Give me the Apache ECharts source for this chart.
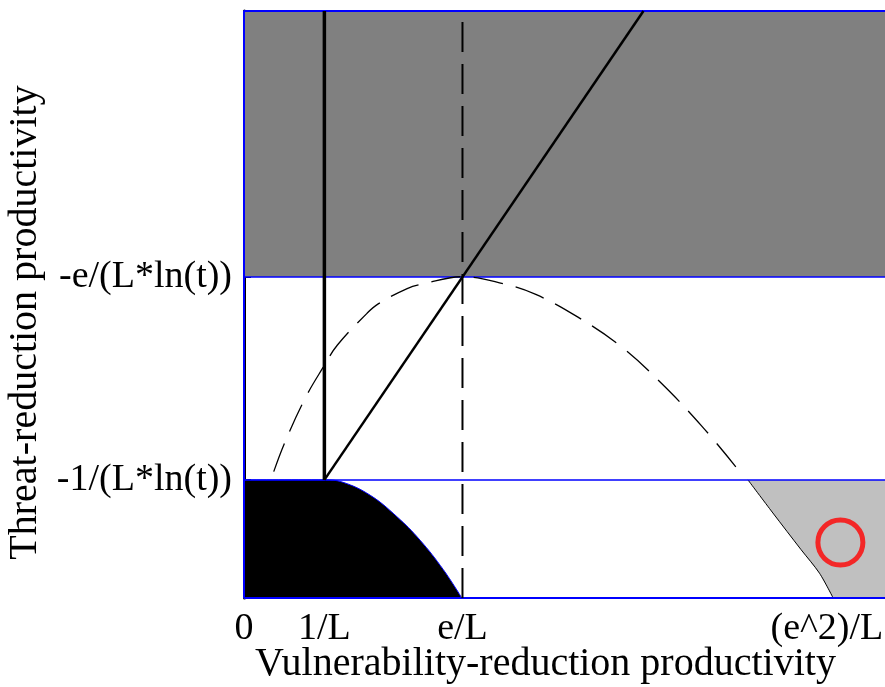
<!DOCTYPE html>
<html><head><meta charset="utf-8">
<script src="https://cdn.jsdelivr.net/npm/echarts@6/dist/echarts.min.js"></script>
<style>html,body{margin:0;padding:0;background:#fff}#c{width:885px;height:687px}</style>
</head><body><div id="c"></div>
<script>
const E = Math.E;
// tick positions (L = 1, -1/(L*ln(t)) = 1)
const xTickValues = [0, 1, E, E * E];
const xTickLabels = ['0', '1/L', 'e/L', '(e^2)/L'];
const yTickValues = [1, E];
const yTickLabels = ['-1/(L*ln(t))', '-e/(L*ln(t))'];
const X_MAX = 8;
const Y_MAX = 4.97;
// dashed curve
const curveX = [0.37, 0.51, 0.76, 1.0, 1.16, 1.53, 1.67, 2.03, 2.23, 2.72, 3.23, 3.63, 4.15, 4.69, 5.19, 5.69, 6.12];
const curveY = [1.07, 1.32, 1.69, 1.97, 2.14, 2.41, 2.49, 2.62, 2.66, 2.72, 2.66, 2.57, 2.38, 2.13, 1.82, 1.46, 1.11];
// black region upper boundary
const blackX = [0, 1.0, 1.23, 1.57, 1.90, 2.19, 2.48, 2.71];
const blackY = [1, 1, 0.98, 0.87, 0.69, 0.49, 0.24, 0];
// light gray region left boundary
const grayX = [6.27, 6.58, 6.93, 7.16, 7.33];
const grayY = [1, 0.72, 0.41, 0.21, 0];
// red marker
const markerX = [7.42];
const markerY = [0.47];

const FONT = '"Liberation Serif","Times New Roman",serif';
const zip = (a, b) => a.map((v, i) => [v, b[i]]);

const grayPoly = zip(grayX, grayY).concat([[X_MAX, 0], [X_MAX, 1]]);

const chart = echarts.init(document.getElementById('c'));
chart.setOption({
  animation: false,
  backgroundColor: '#fff',
  grid: { left: 244, right: -2, top: 11, bottom: 89, containLabel: false, outerBoundsMode: 'none' },
  xAxis: {
    type: 'value', min: 0, max: X_MAX,
    axisLine: { show: false },
    splitLine: { show: false },
    axisTick: { show: false },
    axisLabel: {
      customValues: xTickValues,
      formatter: v => {
        const i = xTickValues.findIndex(t => Math.abs(t - v) < 1e-6);
        if (i < 0) return '';
        return i === xTickLabels.length - 1 ? '{r|' + xTickLabels[i] + '}' : xTickLabels[i];
      },
      rich: { r: { fontFamily: FONT, fontSize: 38, color: '#000', padding: [0, 22, 0, 0] } },
      fontFamily: FONT, fontSize: 38, color: '#000', margin: 12
    },
    name: 'Vulnerability-reduction productivity',
    nameLocation: 'middle', nameGap: 46, nameMoveOverlap: false,
    nameTextStyle: { fontFamily: FONT, fontSize: 40, color: '#000', padding: [0, 40, 0, 0] }
  },
  yAxis: {
    type: 'value', min: 0, max: Y_MAX, offset: 4,
    axisLine: { show: true, lineStyle: { color: '#000', width: 3 } },
    splitLine: { show: false },
    axisTick: { show: true, inside: true, length: 7, customValues: yTickValues, lineStyle: { color: '#000', width: 2 } },
    axisLabel: {
      customValues: yTickValues,
      formatter: v => { const i = yTickValues.findIndex(t => Math.abs(t - v) < 1e-6); return i >= 0 ? yTickLabels[i] : ''; },
      fontFamily: FONT, fontSize: 38, color: '#000', margin: 8
    },
    name: 'Threat-reduction productivity',
    nameLocation: 'middle', nameGap: 188,
    nameTextStyle: { fontFamily: FONT, fontSize: 40, color: '#000', padding: [0, 36, 0, 0] }
  },
  series: [
    { // dark gray region
      type: 'line', data: [], silent: true,
      markArea: { silent: true, itemStyle: { color: '#808080' },
        data: [[{ coord: [0, E] }, { coord: [X_MAX, Y_MAX] }]] },
      z: 1
    },
    { // light gray region
      type: 'custom', silent: true, z: 1,
      data: [0],
      renderItem: (params, api) => ({
        type: 'polygon',
        shape: { points: grayPoly.map(p => api.coord(p)) },
        style: { fill: '#c0c0c0', stroke: null }
      })
    },
    { // black region
      type: 'line', data: zip(blackX, blackY), smooth: 0.4,
      symbol: 'none', lineStyle: { color: '#0000ff', width: 1 },
      areaStyle: { color: '#000', opacity: 1 }, z: 2, clip: false
    },
    { // gray boundary
      type: 'line', data: zip(grayX, grayY), smooth: 0.3, symbol: 'none',
      lineStyle: { color: '#000', width: 1 }, z: 3
    },
    // blue lines
    { type: 'line', data: [[0, 1], [X_MAX, 1]], symbol: 'none', lineStyle: { color: '#0000ff', width: 1.5 }, z: 4, clip: false },
    { type: 'line', data: [[0, E], [X_MAX, E]], symbol: 'none', lineStyle: { color: '#0000ff', width: 1.5 }, z: 4, clip: false },
    { type: 'line', data: [[0, 0], [0, Y_MAX], [X_MAX, Y_MAX]], symbol: 'none', lineStyle: { color: '#0000ff', width: 2 }, z: 4, clip: false },
    { type: 'line', data: [[0, 0], [X_MAX, 0]], symbol: 'none', lineStyle: { color: '#0000ff', width: 2 }, z: 4, clip: false },
    { // dashed curve
      type: 'line', data: zip(curveX, curveY), smooth: 0.4, symbol: 'none',
      lineStyle: { color: '#000', width: 1.3, type: [30, 13] }, z: 5
    },
    { // vertical at 1/L
      type: 'line', data: [[1, 1], [1, Y_MAX]], symbol: 'none',
      lineStyle: { color: '#000', width: 3.5 }, z: 6
    },
    { // diagonal
      type: 'line', data: [[1, 1], [Y_MAX, Y_MAX]], symbol: 'none',
      lineStyle: { color: '#000', width: 2.5 }, z: 6
    },
    { // dashed vertical at e/L
      type: 'line', data: [[E, 0], [E, Y_MAX]], symbol: 'none',
      lineStyle: { color: '#000', width: 2, type: [30, 12] }, z: 6
    },
    { // red circle marker
      type: 'scatter', data: zip(markerX, markerY), symbol: 'circle', symbolSize: 45,
      itemStyle: { color: 'rgba(0,0,0,0)', borderColor: '#ff0000', borderWidth: 5 }, z: 7
    }
  ]
});
</script></body></html>
